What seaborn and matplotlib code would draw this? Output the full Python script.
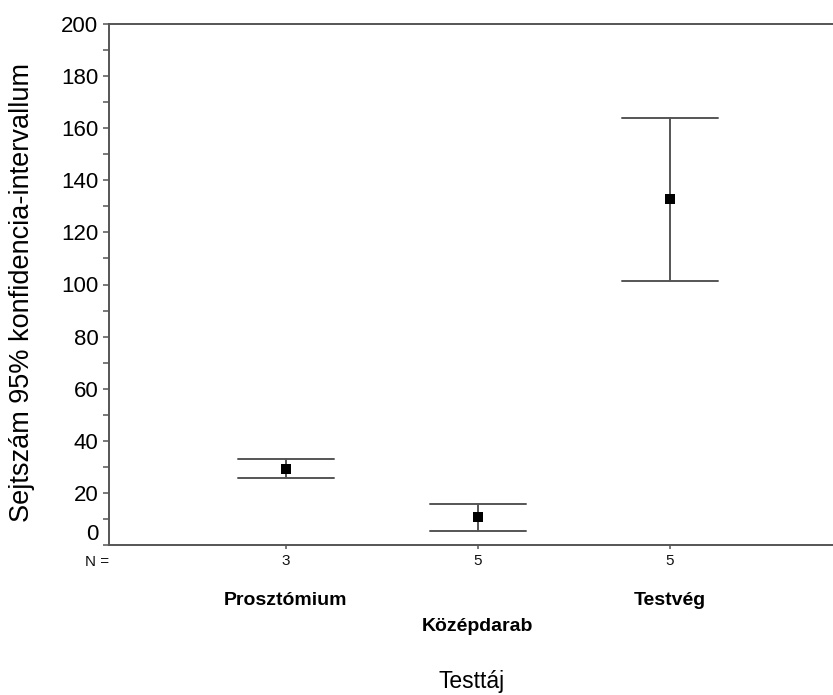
import numpy as np
import pandas as pd
import matplotlib
matplotlib.use("Agg")
import matplotlib.pyplot as plt
import seaborn as sns

# ---- data ----
categories = ["Prosztómium", "Középdarab", "Testvég"]
n_counts = ["3", "5", "5"]
means = [29.1, 10.9, 132.9]
ci_low = [25.8, 5.4, 101.2]
ci_high = [32.9, 15.7, 164.0]
y_ticks = [0, 20, 40, 60, 80, 100, 120, 140, 160, 180, 200]

sns.set_theme(style="ticks")
plt.rcParams["font.family"] = ["Liberation Sans", "DejaVu Sans"]
plt.rcParams["text.color"] = "black"

# long table: low / mean / high per category -> median = mean, 100% interval = CI
rows = []
for c, lo, m, hi in zip(categories, ci_low, means, ci_high):
    for v in (lo, m, hi):
        rows.append({"Testtáj": c, "value": v})
df = pd.DataFrame(rows)

fig = plt.figure(figsize=(8.33, 6.95), dpi=100)
ax = fig.add_axes([108.7 / 833, 150 / 695, 1 - 108.7 / 833 + 0.002, 521 / 695])

sns.pointplot(
    data=df, x="Testtáj", y="value", order=categories,
    estimator="median", errorbar=("pi", 100),
    linestyle="none", marker="s", markersize=6.5,
    markeredgewidth=0, markeredgecolor="black",
    color="black", capsize=0.5, err_kws={"color": "#555555", "linewidth": 1.4},
    ax=ax,
)
for ln in ax.lines:
    if ln.get_marker() == "s":
        ln.set_zorder(5)

ax.set_xlim(-0.922, 2.86)
ax.set_ylim(0, 200)

spine_c = "#555555"
for s in ["left", "bottom", "top"]:
    ax.spines[s].set_color(spine_c)
    ax.spines[s].set_linewidth(1.4)
ax.spines["right"].set_visible(False)

ax.set_yticks(y_ticks)
ax.set_yticklabels([""] + [str(t) for t in y_ticks[1:]])
ax.set_yticks(np.arange(10, 200, 20), minor=True)
ax.tick_params(axis="y", which="both", length=4.5, width=1.1, color=spine_c,
               labelsize=16, pad=3, labelcolor="black")
ax.annotate("0", xy=(0, 0), xycoords=("axes fraction", "data"),
            xytext=(-7.5, 7.5), textcoords="offset points",
            ha="right", va="center", fontsize=16, color="black")

ax.set_xticks([0, 1, 2])
ax.set_xticklabels(n_counts)
ax.tick_params(axis="x", which="major", length=3, width=1.1, color=spine_c,
               labelsize=11, pad=3.5, labelcolor="#111111")
ax.annotate("N =", xy=(0, 0), xycoords="axes fraction",
            xytext=(-8.5, -12.2), textcoords="offset points",
            ha="center", va="center", fontsize=11, color="#111111")

label_offsets = [-40.3, -59.0, -40.3]
for i, (c, off) in enumerate(zip(categories, label_offsets)):
    ax.annotate(c, xy=(i, 0), xycoords=("data", "axes fraction"),
                xytext=(0, off), textcoords="offset points",
                ha="center", va="center", fontsize=14, fontweight="bold",
                color="black")

ax.set_xlabel("")
ax.set_ylabel("")
ax.annotate("Testtáj", xy=(0.5, 0), xycoords="axes fraction",
            xytext=(0, -98.6), textcoords="offset points",
            ha="center", va="center", fontsize=16.5, color="black")
fig.text(22 / 833, 1 - 292 / 695, "Sejtszám 95% konfidencia-intervallum",
         rotation=90, ha="center", va="center", fontsize=19.5, color="black")

fig.savefig("out.png", dpi=100)
